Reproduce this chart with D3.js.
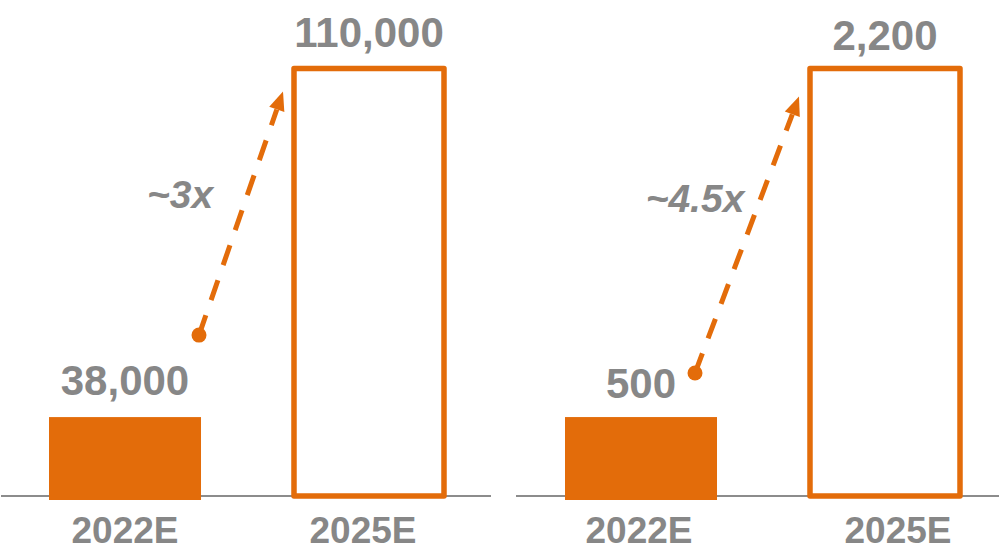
<!DOCTYPE html>
<html>
<head>
<meta charset="utf-8">
<script src="https://cdn.jsdelivr.net/npm/d3@7"></script>
<style>
  body { margin: 0; background: #fff; }
  svg { display: block; font-family: "Liberation Sans", Arial, sans-serif; }
</style>
</head>
<body>
<div id="chart"></div>
<script>
// data
var categories = ["2022E", "2025E"];
var unitsLeft = [38000, 110000];
var unitsRight = [500, 2200];
var growthLabels = ["~3x", "~4.5x"];

var orange = "#e36c0a";
var grey = "#878787";

// layout of the two panels (bars are not drawn to a zero-based scale in the original)
var panels = [
  { values: unitsLeft, growth: growthLabels[0], floor: 21700,
    line: [1, 491], bars: [49, 445], labelDy: -22, catDx: [0, -6],
    dot: [-2, -82], tip: [-10, 23], growthAt: [180, 208] },
  { values: unitsRight, growth: growthLabels[1], floor: 115,
    line: [516, 999], bars: [565, 961], labelDy: -19, catDx: [-2, 13],
    dot: [-22, -44], tip: [-10, 28], growthAt: [695, 212] }
];

var baseY = 496;
var topY = 68.5;
var fmt = d3.format(",");

var svg = d3.select("#chart")
  .append("svg")
  .attr("width", 999)
  .attr("height", 556);

panels.forEach(function(p) {
  var x = d3.scaleBand()
    .domain(categories)
    .range(p.bars)
    .paddingInner(0.377)
    .paddingOuter(0);

  var y = d3.scaleLinear()
    .domain([p.floor, d3.max(p.values)])
    .range([baseY, topY]);

  var g = svg.append("g");

  // baseline
  g.append("line")
    .attr("x1", p.line[0])
    .attr("x2", p.line[1])
    .attr("y1", baseY)
    .attr("y2", baseY)
    .style("stroke", "#8c8c8c")
    .style("stroke-width", 2);

  // filled bar (first year)
  g.append("rect")
    .attr("x", x(categories[0]))
    .attr("y", y(p.values[0]))
    .attr("width", x.bandwidth())
    .attr("height", baseY + 4 - y(p.values[0]))
    .style("fill", orange);

  // outlined bar (second year)
  g.append("rect")
    .attr("x", x(categories[1]) + 1)
    .attr("y", y(p.values[1]))
    .attr("width", x.bandwidth() - 2)
    .attr("height", baseY - y(p.values[1]))
    .style("fill", "none")
    .style("stroke", orange)
    .style("stroke-width", 5.5)
    .style("stroke-linejoin", "round");

  // value labels
  g.selectAll("text.val")
    .data(p.values)
    .enter()
    .append("text")
    .attr("class", "val")
    .attr("x", function(d, i) { return x(categories[i]) + x.bandwidth() / 2; })
    .attr("y", function(d) { return y(d) + p.labelDy; })
    .attr("text-anchor", "middle")
    .style("font-size", "42px")
    .style("font-weight", "bold")
    .style("fill", grey)
    .text(function(d) { return fmt(d); });

  // category labels
  g.selectAll("text.cat")
    .data(categories)
    .enter()
    .append("text")
    .attr("class", "cat")
    .attr("x", function(d, i) { return x(d) + x.bandwidth() / 2 + p.catDx[i]; })
    .attr("y", 543)
    .attr("text-anchor", "middle")
    .style("font-size", "37px")
    .style("font-weight", "bold")
    .style("fill", grey)
    .text(function(d) { return d; });

  // growth arrow
  var x0 = x(categories[0]) + x.bandwidth() + p.dot[0];
  var y0 = y(p.values[0]) + p.dot[1];
  var x1 = x(categories[1]) + p.tip[0];
  var y1 = y(p.values[1]) + p.tip[1];
  var len = Math.hypot(x1 - x0, y1 - y0);
  var ux = (x1 - x0) / len, uy = (y1 - y0) / len;
  var headL = 19, headW = 8;
  var bx = x1 - ux * headL, by = y1 - uy * headL;

  g.append("line")
    .attr("x1", x0)
    .attr("y1", y0)
    .attr("x2", bx)
    .attr("y2", by)
    .style("stroke", orange)
    .style("stroke-width", 5)
    .style("stroke-dasharray", "21,16");

  g.append("circle")
    .attr("cx", x0)
    .attr("cy", y0)
    .attr("r", 7.5)
    .style("fill", orange);

  g.append("polygon")
    .attr("points", [
      [x1, y1],
      [bx - uy * headW, by + ux * headW],
      [bx + uy * headW, by - ux * headW]
    ].map(function(pt) { return pt.join(","); }).join(" "))
    .style("fill", orange);

  g.append("text")
    .attr("x", p.growthAt[0])
    .attr("y", p.growthAt[1])
    .attr("text-anchor", "middle")
    .style("font-size", "39px")
    .style("font-weight", "bold")
    .style("font-style", "italic")
    .style("fill", grey)
    .text(p.growth);
});
</script>
</body>
</html>
